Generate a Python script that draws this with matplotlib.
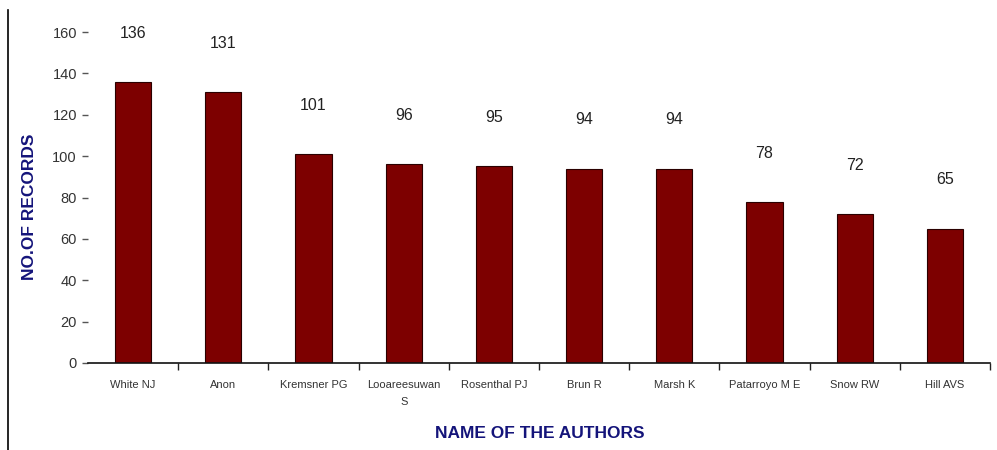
import matplotlib
matplotlib.use('Agg')
import matplotlib.pyplot as plt
from matplotlib.lines import Line2D

# Автори та кількість записів
authors = ['White NJ', 'Anon', 'Kremsner PG', 'Looareesuwan\nS', 'Rosenthal PJ',
           'Brun R', 'Marsh K', 'Patarroyo M E', 'Snow RW', 'Hill AVS']
records = [136, 131, 101, 96, 95, 94, 94, 78, 72, 65]

plt.rcParams['font.family'] = ['Liberation Sans', 'DejaVu Sans']

fig = plt.figure(figsize=(9.97, 4.5), dpi=100)
ax = fig.add_axes([88 / 997, 87 / 450, 902 / 997, 331 / 450])

x = list(range(len(authors)))
ax.bar(x, records, width=0.4, color='#7d0000', edgecolor='#2a0000', linewidth=0.8)

# Підписи значень над стовпцями
for xi, v in zip(x, records):
    ax.annotate(str(v), (xi, v), xytext=(0, 35), textcoords='offset points',
                ha='center', va='center', fontsize=11.5, color='#222222',
                annotation_clip=False)

ax.set_xlim(-0.5, len(authors) - 0.5)
ax.set_ylim(0, 160)
ax.set_yticks(range(0, 161, 20))
ax.tick_params(axis='y', length=4, width=1, color='#555555', labelsize=10.5,
               labelcolor='#333333', pad=4)

ax.set_xticks(x)
ax.set_xticklabels(authors, fontsize=8, color='#333333', linespacing=1.9)
ax.tick_params(axis='x', which='major', length=0, pad=12)
ax.set_xticks([i + 0.5 for i in x], minor=True)
ax.tick_params(axis='x', which='minor', length=5, width=1, color='#222222')

for s in ['top', 'right', 'left']:
    ax.spines[s].set_visible(False)
ax.spines['bottom'].set_color('#111111')
ax.spines['bottom'].set_linewidth(1.2)

fig.text(540 / 997, 1 - 433 / 450, 'NAME OF THE AUTHORS', ha='center', va='center',
         fontsize=12.5, fontweight='bold', color='#14147a')
fig.text(30 / 997, 1 - 207 / 450, 'NO.OF RECORDS', ha='center', va='center',
         rotation=90, fontsize=12.5, fontweight='bold', color='#14147a')

# Ліва рамка
fig.add_artist(Line2D([8 / 997, 8 / 997], [0, 1 - 10 / 450], color='black', linewidth=1.2))

fig.savefig('out.png', dpi=100)
